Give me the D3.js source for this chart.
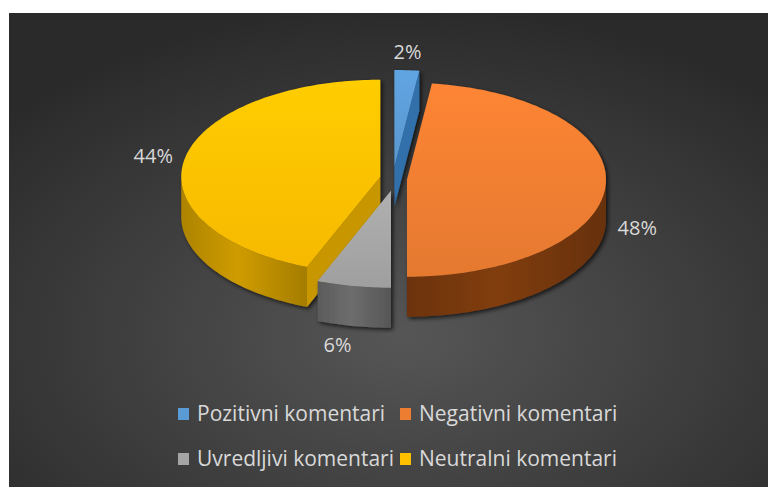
<!DOCTYPE html>
<html>
<head>
<meta charset="utf-8">
<script src="https://cdn.jsdelivr.net/npm/d3@7"></script>
<style>
  body { margin: 0; background: #fff; }
  text { font-family: 'Open Sans', 'Noto Sans', sans-serif; }
</style>
</head>
<body>
<svg width="768" height="487"></svg>
<script>
// chart data
const categories = ['Pozitivni komentari', 'Negativni komentari', 'Uvredljivi komentari', 'Neutralni komentari'];
const shares = [2, 48, 6, 44];
const shareLabels = ['2%', '48%', '6%', '44%'];

const topColors  = ['#5B9BD5', '#ED7D31', '#A5A5A5', '#FFC000'];
const wallColors = ['#2F6DA8', '#7A3A10', '#676767', '#C49400'];

const svg = d3.select('svg');
const width = +svg.attr('width');
const height = +svg.attr('height');

// 3d pie geometry
const cx = 393.5, cy = 179;
const rx = 199, ry = 97, depth = 40;
const explodeX = 13.5, explodeY = 12;

const defs = svg.append('defs');

const bg = defs.append('radialGradient')
    .attr('id', 'bg')
    .attr('cx', '52%').attr('cy', '68%').attr('r', '70%');
bg.append('stop').attr('offset', '0%').attr('stop-color', '#565656');
bg.append('stop').attr('offset', '100%').attr('stop-color', '#2a2a2a');

const shadow = defs.append('filter')
    .attr('id', 'shadow')
    .attr('x', '-20%').attr('y', '-20%').attr('width', '140%').attr('height', '140%');
shadow.append('feDropShadow')
    .attr('dx', 2).attr('dy', 2)
    .attr('stdDeviation', 2)
    .attr('flood-color', '#000')
    .attr('flood-opacity', 0.7);

topColors.forEach((c, i) => {
  const g = defs.append('linearGradient')
      .attr('id', `top${i}`)
      .attr('x1', 0).attr('y1', 0).attr('x2', 0).attr('y2', 1);
  g.append('stop').attr('offset', '0%').attr('stop-color', d3.color(c).brighter(0.18));
  g.append('stop').attr('offset', '100%').attr('stop-color', d3.color(c).darker(0.1));

  const w = defs.append('linearGradient')
      .attr('id', `wall${i}`)
      .attr('x1', 0).attr('y1', 0).attr('x2', 1).attr('y2', 0);
  const wc = wallColors[i];
  w.append('stop').attr('offset', '0%').attr('stop-color', d3.color(wc).darker(0.35));
  w.append('stop').attr('offset', '45%').attr('stop-color', d3.color(wc).brighter(0.15));
  w.append('stop').attr('offset', '100%').attr('stop-color', d3.color(wc).darker(0.5));
});

svg.append('rect')
    .attr('x', 9).attr('y', 13)
    .attr('width', width - 9).attr('height', height - 13)
    .attr('fill', 'url(#bg)');

const pie = d3.pie().sort(null).value(d => d.value);
const slices = pie(shares.map((v, i) => ({ value: v, i })));

slices.forEach(s => {
  const mid = (s.startAngle + s.endAngle) / 2;
  s.mid = mid;
  s.ox = cx + explodeX * Math.sin(mid);
  s.oy = cy - explodeY * Math.cos(mid);
});

const pt = (s, a, h) => [s.ox + rx * Math.sin(a), s.oy - ry * Math.cos(a) + h];
const arcPts = (s, a0, a1, h) => {
  const n = Math.max(2, Math.ceil((a1 - a0) / 0.02));
  return d3.range(n + 1).map(k => pt(s, a0 + (a1 - a0) * k / n, h));
};
const line = d3.line();

const g = svg.append('g');

// paint from back to front
const order = slices.slice().sort((a, b) => a.oy - b.oy);

order.forEach(s => {
  const i = s.data.i;
  const sg = g.append('g').attr('filter', 'url(#shadow)');
  const apexTop = [s.ox, s.oy];
  const apexBot = [s.ox, s.oy + depth];

  // radial cut faces turned toward the viewer
  const faces = [];
  if (Math.sin(s.startAngle) < -1e-6) faces.push(s.startAngle);
  if (Math.sin(s.endAngle) > 1e-6) faces.push(s.endAngle);
  faces.forEach(a => {
    sg.append('path')
      .attr('d', line([apexTop, pt(s, a, 0), pt(s, a, depth), apexBot]) + 'Z')
      .attr('fill', d3.color(wallColors[i]).brighter(0.05));
  });

  // outer wall, front half only
  const w0 = Math.max(s.startAngle, Math.PI / 2);
  const w1 = Math.min(s.endAngle, Math.PI * 1.5);
  if (w1 > w0) {
    const pts = arcPts(s, w0, w1, 0).concat(arcPts(s, w0, w1, depth).reverse());
    sg.append('path')
      .attr('d', line(pts) + 'Z')
      .attr('fill', `url(#wall${i})`);
  }

  // top face
  sg.append('path')
    .attr('d', line([apexTop].concat(arcPts(s, s.startAngle, s.endAngle, 0))) + 'Z')
    .attr('fill', `url(#top${i})`);
});

// data labels
const pad = 12;
g.selectAll('text.label').data(slices)
  .enter().append('text')
    .attr('class', 'label')
    .attr('x', s => s.ox + (rx + pad) * Math.sin(s.mid))
    .attr('y', s => {
      const front = -Math.cos(s.mid) > 0;
      return s.oy - (ry + pad) * Math.cos(s.mid) + (front ? depth : 0) - 6.5 * Math.cos(s.mid);
    })
    .attr('dominant-baseline', 'central')
    .attr('text-anchor', s => {
      const sn = Math.sin(s.mid);
      return sn > 0.15 ? 'start' : sn < -0.15 ? 'end' : 'middle';
    })
    .attr('fill', '#D9D9D9')
    .attr('font-size', 20)
    .text(s => shareLabels[s.data.i]);

// legend
const colX = [178, 400];
const rowY = [421, 466];
const legend = svg.append('g');
const items = legend.selectAll('g').data(categories)
  .enter().append('g')
    .attr('transform', (d, i) => `translate(${colX[i % 2]},${rowY[Math.floor(i / 2)]})`);
items.append('rect')
    .attr('x', 0).attr('y', -13)
    .attr('width', 11).attr('height', 12)
    .attr('fill', (d, i) => topColors[i]);
items.append('text')
    .attr('x', 19).attr('y', 0)
    .attr('fill', '#D9D9D9')
    .attr('font-size', 21)
    .text(d => d);
</script>
</body>
</html>
